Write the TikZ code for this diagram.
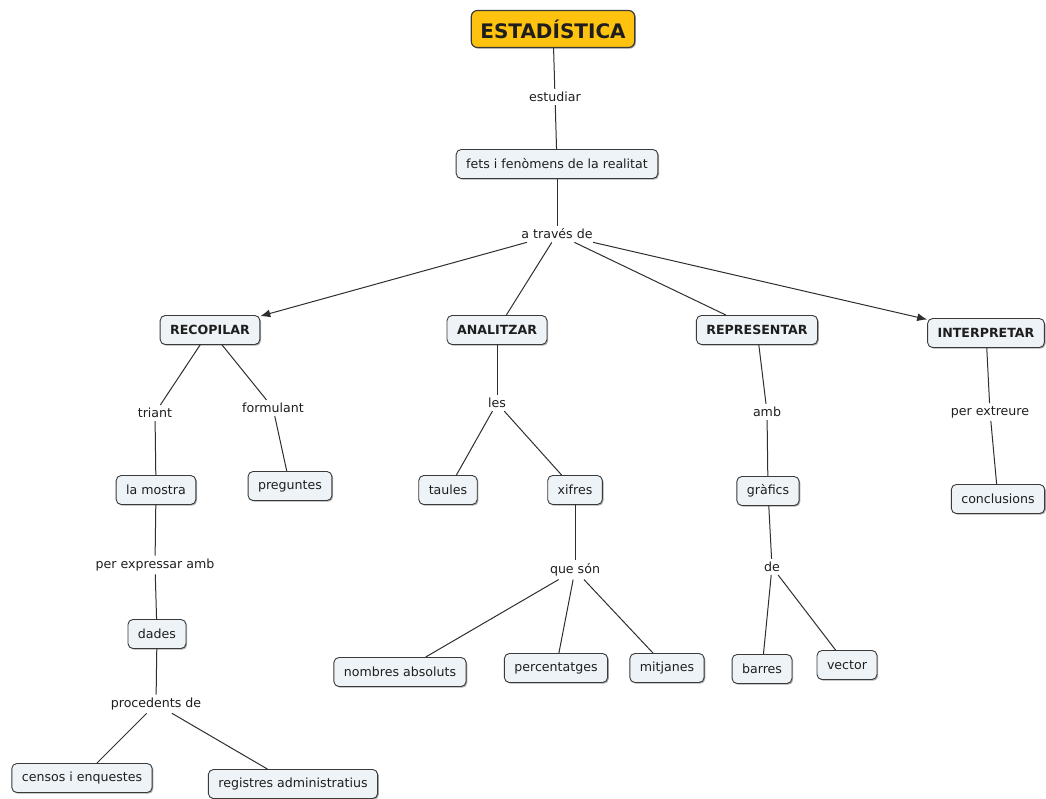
\documentclass[tikz,border=0pt]{standalone}
\usepackage{fontspec}
\setmainfont{DejaVu Sans}
\usetikzlibrary{arrows.meta,shadows}
\definecolor{boxfill}{HTML}{EDF3F6}
\definecolor{boxdraw}{HTML}{3A3A3A}
\definecolor{gold}{HTML}{FFC20E}
\definecolor{linecol}{HTML}{2E2E2E}
\definecolor{txt}{HTML}{1E1E1E}
\tikzset{
  concept/.style={draw=boxdraw, line width=0.9pt, fill=boxfill, rounded corners=5pt,
    minimum height=29pt, inner xsep=10pt, inner ysep=2pt, text=txt,
    font=\fontsize{12.6}{15}\selectfont,
    drop shadow={shadow xshift=1.2pt, shadow yshift=-1.2pt, fill=black!55, opacity=0.6}},
  bconcept/.style={concept, font=\fontsize{12.6}{15}\selectfont\bfseries},
  title/.style={draw=boxdraw, line width=1.2pt, fill=gold, rounded corners=6pt,
    minimum height=37pt, inner xsep=9pt, text=txt, font=\fontsize{20}{24}\selectfont\bfseries,
    drop shadow={shadow xshift=1.2pt, shadow yshift=-1.2pt, fill=black!55, opacity=0.6}},
  lbl/.style={inner sep=3pt, text=txt, font=\fontsize{12.6}{15}\selectfont, fill=white},
  link/.style={draw=linecol, line width=1pt},
  arrowlink/.style={link, -{Latex[length=10pt,width=8pt]}}
}
\begin{document}
\begin{tikzpicture}[x=1pt,y=-1pt]
\useasboundingbox (0,0) rectangle (1046,799);
% concepts
\node[title] (est) at (553,29) {ESTADÍSTICA};
\node[concept] (fets) at (557,164) {fets i fenòmens de la realitat};
\node[bconcept] (recop) at (210,330) {RECOPILAR};
\node[bconcept] (analit) at (497,330) {ANALITZAR};
\node[bconcept] (repres) at (757,330) {REPRESENTAR};
\node[bconcept] (interp) at (986,333) {INTERPRETAR};
\node[concept] (mostra) at (156,490) {la mostra};
\node[concept] (preg) at (290,486) {preguntes};
\node[concept] (dades) at (157,634) {dades};
\node[concept] (censos) at (82,778) {censos i enquestes};
\node[concept] (regis) at (293,784) {registres administratius};
\node[concept] (taules) at (448,490) {taules};
\node[concept] (xifres) at (575,490) {xifres};
\node[concept] (nomb) at (400,672) {nombres absoluts};
\node[concept] (perc) at (556,668) {percentatges};
\node[concept] (mitj) at (667,668) {mitjanes};
\node[concept] (graf) at (768,491) {gràfics};
\node[concept] (barres) at (762,669) {barres};
\node[concept] (vector) at (847,665) {vector};
\node[concept] (concl) at (998,499) {conclusions};
% linking phrases
\node[lbl] (estud) at (555,97) {estudiar};
\node[lbl] (atrav) at (557,234) {a través de};
\node[lbl] (triant) at (155,413) {triant};
\node[lbl] (formul) at (273,408) {formulant};
\node[lbl] (perexp) at (155,565) {per expressar amb};
\node[lbl] (proced) at (156,704) {procedents de};
\node[lbl] (les) at (497,403) {les};
\node[lbl] (queson) at (575,570) {que són};
\node[lbl] (amb) at (767,412) {amb};
\node[lbl] (de) at (772,567) {de};
\node[lbl] (perextr) at (990,412) {per extreure};
% connectors
\draw[link] (est) -- (estud);
\draw[link] (estud) -- (fets);
\draw[link] (fets) -- (atrav);
\draw[arrowlink] (atrav) -- (recop);
\draw[link] (atrav) -- (analit);
\draw[link] (atrav) -- (repres);
\draw[arrowlink] (atrav) -- (interp);
\draw[link] (recop) -- (triant);
\draw[link] (triant) -- (mostra);
\draw[link] (recop) -- (formul);
\draw[link] (formul) -- (preg);
\draw[link] (mostra) -- (perexp);
\draw[link] (perexp) -- (dades);
\draw[link] (dades) -- (proced);
\draw[link] (proced) -- (censos);
\draw[link] (proced) -- (regis);
\draw[link] (analit) -- (les);
\draw[link] (les) -- (taules);
\draw[link] (les) -- (xifres);
\draw[link] (xifres) -- (queson);
\draw[link] (queson) -- (nomb);
\draw[link] (queson) -- (perc);
\draw[link] (queson) -- (mitj);
\draw[link] (repres) -- (amb);
\draw[link] (amb) -- (graf);
\draw[link] (graf) -- (de);
\draw[link] (de) -- (barres);
\draw[link] (de) -- (vector);
\draw[link] (interp) -- (perextr);
\draw[link] (perextr) -- (concl);
\end{tikzpicture}
\end{document}
